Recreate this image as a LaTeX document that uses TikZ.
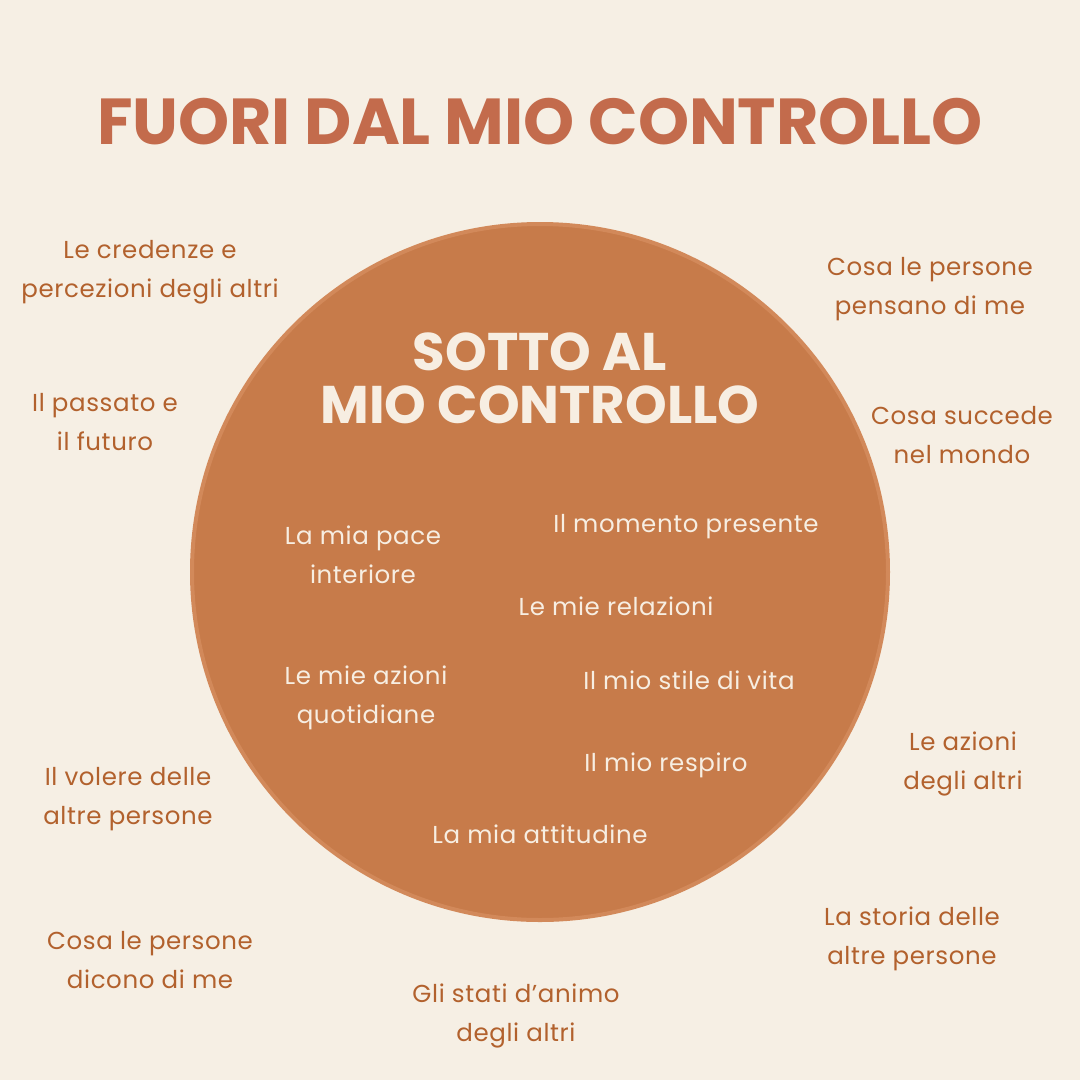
\documentclass[tikz,border=0pt]{standalone}
\usepackage{fontspec}
\setmainfont{Poppins}
\usepackage{tikz}
\usetikzlibrary{positioning}
\definecolor{paper}{HTML}{F6EFE4}
\definecolor{titlecol}{HTML}{C36B4C}
\definecolor{discfill}{HTML}{C77B4A}
\definecolor{discrim}{HTML}{D2895A}
\definecolor{outcol}{HTML}{B2612D}
\definecolor{increm}{HTML}{F7EEE2}
\tikzset{
  % item outside the circle
  outitem/.style={text=outcol, align=center, inner sep=0pt,
                  font=\fontsize{24.5}{39}\selectfont\addfontfeature{LetterSpace=2.5}},
  % item inside the circle
  initem/.style={text=increm, align=center, inner sep=0pt,
                 font=\fontsize{24.5}{39}\selectfont\addfontfeature{LetterSpace=2.5}},
  % big headings
  bighead/.style={text=#1, align=center, inner sep=0pt,
                  font=\fontsize{65}{65}\selectfont\bfseries},
}

\begin{document}
\begin{tikzpicture}[x=1pt,y=-1pt]
  \fill[paper] (0,0) rectangle (1080,1080);
  \useasboundingbox (0,0) rectangle (1080,1080);
  \node[bighead=titlecol] (title) at (540,122) {FUORI DAL MIO CONTROLLO};
  \draw[discrim,fill=discfill,line width=4pt] (540,572) circle (348);
  \node[bighead=increm,font=\fontsize{53}{53}\selectfont\bfseries]
    (inhead) at (540,378) {SOTTO AL\\MIO CONTROLLO};
  % outside
  \node[outitem] (credenze) at (150,272) {Le credenze e\\percezioni degli altri};
  \node[outitem] (pensano) at (930,289) {Cosa le persone\\pensano di me};
  \node[outitem] (passato) at (105,422) {Il passato e\\il futuro};
  \node[outitem] (mondo) at (962,435) {Cosa succede\\nel mondo};
  \node[outitem] (volere) at (128,799) {Il volere delle\\altre persone};
  \node[outitem] (azioni) at (963,764) {Le azioni\\degli altri};
  \node[outitem] (dicono) at (150,960) {Cosa le persone\\dicono di me};
  \node[outitem] (storia) at (912,939) {La storia delle\\altre persone};
  \node[outitem] (animo) at (516,1016) {Gli stati d’animo\\degli altri};
  % inside
  \node[initem] (pace) at (363,555) {La mia pace\\interiore};
  \node[initem] (momento) at (686,527) {Il momento presente};
  \node[initem] (relazioni) at (616,606) {Le mie relazioni};
  \node[initem] (quotid) at (366,698) {Le mie azioni\\quotidiane};
  \node[initem] (stile) at (689,680) {Il mio stile di vita};
  \node[initem] (respiro) at (666,765) {Il mio respiro};
  \node[initem] (attitud) at (540,834) {La mia attitudine};
\end{tikzpicture}
\end{document}
